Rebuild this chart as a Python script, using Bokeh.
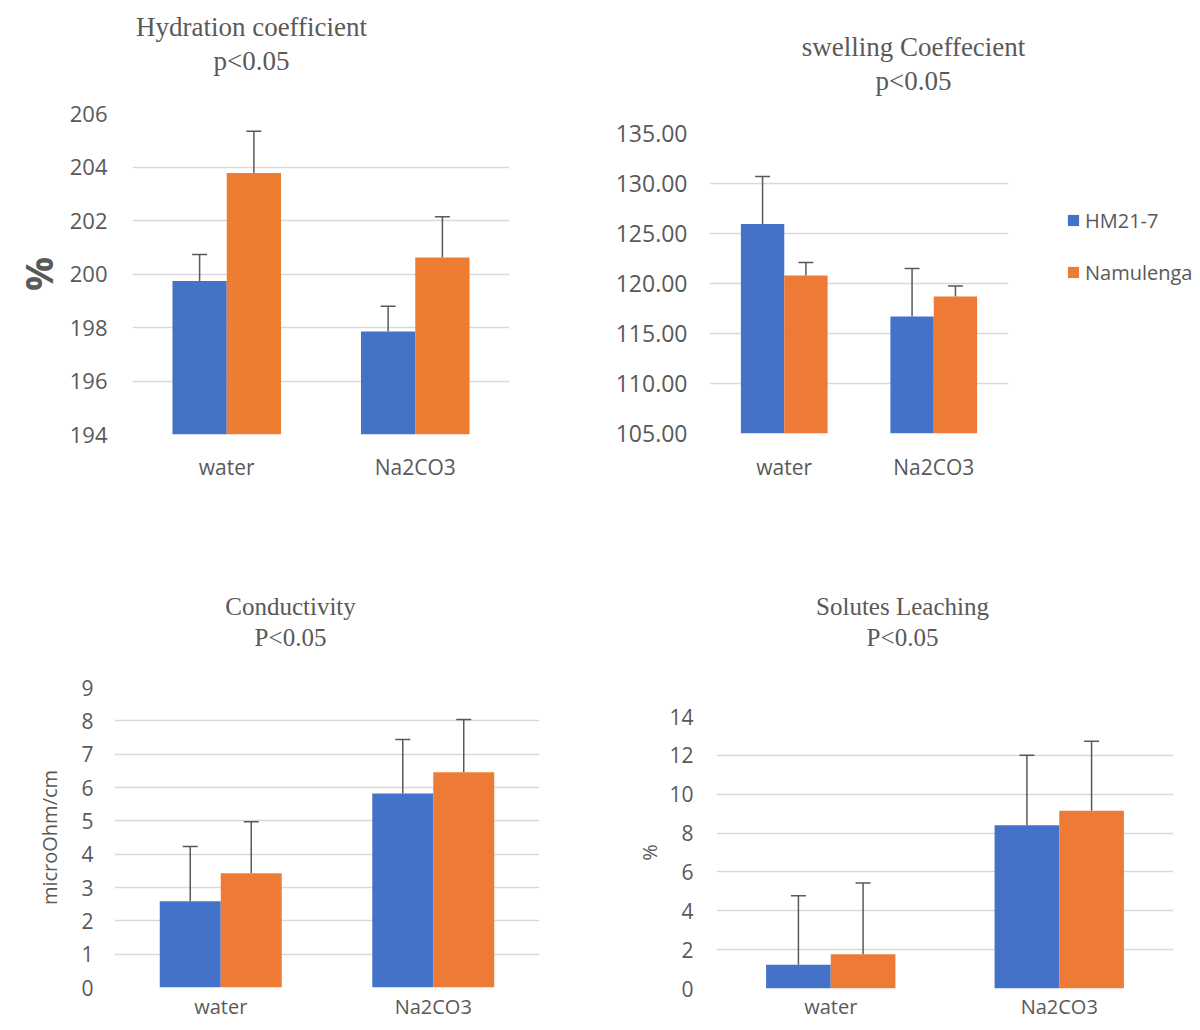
from bokeh.plotting import figure
from bokeh.models import (FactorRange, Range1d, FixedTicker, Whisker, TeeHead,
                          ColumnDataSource, Legend, LegendItem, PrintfTickFormatter)
from bokeh.core.properties import value
from bokeh.transform import dodge
from bokeh.embed import file_html
from bokeh.resources import INLINE

# ---------------- data ----------------
categories = ["water", "Na2CO3"]
series_names = ["HM21-7", "Namulenga"]

hyd_hm = [199.74, 197.85]
hyd_hm_err = [0.99, 0.94]
hyd_nam = [203.78, 200.62]
hyd_nam_err = [1.56, 1.52]
hyd_ticks = [194, 196, 198, 200, 202, 204, 206]

swl_hm = [125.95, 116.70]
swl_hm_err = [4.75, 4.80]
swl_nam = [120.80, 118.70]
swl_nam_err = [1.30, 1.05]
swl_ticks = [105, 110, 115, 120, 125, 130, 135]

con_hm = [2.59, 5.82]
con_hm_err = [1.64, 1.62]
con_nam = [3.43, 6.46]
con_nam_err = [1.54, 1.58]
con_ticks = [0, 1, 2, 3, 4, 5, 6, 7, 8, 9]

sol_hm = [1.22, 8.40]
sol_hm_err = [3.56, 3.60]
sol_nam = [1.76, 9.15]
sol_nam_err = [3.67, 3.58]
sol_ticks = [0, 2, 4, 6, 8, 10, 12, 14]

top_titles = ["Hydration coefficient", "p<0.05", "swelling Coeffecient", "p<0.05"]
bottom_titles = ["Conductivity", "P<0.05", "Solutes Leaching", "P<0.05"]

GRID = "#D9D9D9"
TXT = "#595959"
FONT = "Open Sans"
SERIF = "Liberation Serif"


def make_panel(name, width, height, borders, ticks, hm, hm_err, nam, nam_err,
               colors, bar_w, tick_size, cat_size, tick_standoff, cat_standoff,
               ylabel=None, ylabel_size="20px", ylabel_bold=False,
               ylabel_standoff=10, fmt=None):
    left, right, top, bottom = borders
    p = figure(x_range=FactorRange(factors=categories, range_padding=0),
               y_range=Range1d(ticks[0], ticks[-1]),
               width=width, height=height,
               min_border_left=left, min_border_right=right,
               min_border_top=top, min_border_bottom=bottom,
               output_backend="svg", toolbar_location=None, name=name)
    p.outline_line_color = None
    p.background_fill_color = "white"
    p.border_fill_color = "white"
    p.xgrid.grid_line_color = None
    p.ygrid.ticker = FixedTicker(ticks=ticks)
    p.ygrid.grid_line_color = GRID
    p.ygrid.grid_line_width = 1.5
    p.yaxis.ticker = FixedTicker(ticks=ticks)
    if fmt:
        p.yaxis.formatter = PrintfTickFormatter(format=fmt)
    for ax in (p.xaxis[0], p.yaxis[0]):
        ax.axis_line_color = None
        ax.major_tick_line_color = None
        ax.minor_tick_line_color = None
        ax.major_tick_out = 0
        ax.major_tick_in = 0
        ax.major_label_text_font = FONT
        ax.major_label_text_color = TXT
    p.yaxis.major_label_text_font_size = tick_size
    p.yaxis.major_label_standoff = tick_standoff
    p.xaxis.major_label_text_font_size = cat_size
    p.xaxis.major_label_standoff = cat_standoff
    if ylabel:
        p.yaxis.axis_label = ylabel
        p.yaxis.axis_label_text_font = FONT
        p.yaxis.axis_label_text_font_size = ylabel_size
        p.yaxis.axis_label_text_color = TXT
        p.yaxis.axis_label_text_font_style = "bold" if ylabel_bold else "normal"
        p.yaxis.axis_label_standoff = ylabel_standoff

    base = ticks[0]
    for vals, errs, off, col in ((hm, hm_err, -bar_w / 2, colors[0]),
                                 (nam, nam_err, bar_w / 2, colors[1])):
        src = ColumnDataSource(dict(cat=categories, val=vals,
                                    up=[v + e for v, e in zip(vals, errs)]))
        p.vbar(x=dodge("cat", off, range=p.x_range), top="val", bottom=base,
               width=bar_w, source=src, fill_color=col, line_color=None)
        w = Whisker(source=src, base=dodge("cat", off, range=p.x_range),
                    upper="up", lower="val", line_color=TXT, line_width=1.5,
                    upper_head=TeeHead(size=15, line_color=TXT, line_width=1.5),
                    lower_head=None)
        p.add_layout(w)
    return p


flat = ("#4472C4", "#ED7D31")
grad = ("#4572C9", "#EE7B35")

p1 = make_panel("p1", 582, 560, (118, 81, 105, 134), hyd_ticks, hyd_hm, hyd_hm_err,
                hyd_nam, hyd_nam_err, flat, 0.288, "22px", "21px", 25, 18,
                ylabel="%", ylabel_size="38px", ylabel_bold=True, ylabel_standoff=3)

p2 = make_panel("p2", 602, 560, (119, 184, 125, 135), swl_ticks, swl_hm, swl_hm_err,
                swl_nam, swl_nam_err, grad, 0.29, "23px", "21px", 22, 19,
                fmt="%.2f")

p3 = make_panel("p3", 592, 454, (106, 61, 119, 32), con_ticks, con_hm, con_hm_err,
                con_nam, con_nam_err, grad, 0.287, "21px", "20px", 21, 5,
                ylabel="microOhm/cm", ylabel_size="20px", ylabel_standoff=15)

p4 = make_panel("p4", 592, 454, (116, 19, 148, 31), sol_ticks, sol_hm, sol_hm_err,
                sol_nam, sol_nam_err, grad, 0.283, "21px", "20px", 23, 4,
                ylabel="%", ylabel_size="20px", ylabel_standoff=3)

# transparent overlay (page pixel space) carrying the panel titles and the legend
ov = figure(width=1184, height=1014, x_range=Range1d(0, 1184), y_range=Range1d(1014, 0),
            x_axis_type=None, y_axis_type=None, min_border=0,
            output_backend="svg", toolbar_location=None, name="overlay")
ov.outline_line_color = None
ov.background_fill_color = None
ov.border_fill_color = None
ov.grid.grid_line_color = None
ov.text(x=[243, 243, 905, 905], y=[18, 52, 38, 72], text=top_titles,
        text_font=value(SERIF), text_font_size="27px", text_color=TXT,
        text_align="center", text_baseline="middle")
ov.text(x=[282, 282, 894, 894], y=[598, 629, 598, 629], text=bottom_titles,
        text_font=value(SERIF), text_font_size="25px", text_color=TXT,
        text_align="center", text_baseline="middle")

# zero-size legend proxies (they only carry the series colours for the legend)
lg_hm = ov.vbar(x=[0], bottom=[0], top=[0], width=0, fill_color=grad[0], line_color=None)
lg_nam = ov.vbar(x=[0], bottom=[0], top=[0], width=0, fill_color=grad[1], line_color=None)
lg = Legend(items=[LegendItem(label=series_names[0], renderers=[lg_hm]),
                   LegendItem(label=series_names[1], renderers=[lg_nam])],
            location=(1058, 736), orientation="vertical",
            glyph_width=14, glyph_height=14, label_height=28,
            spacing=24, padding=0, margin=0, label_standoff=5,
            label_text_font=FONT, label_text_font_size="20px",
            label_text_color=TXT, border_line_alpha=0,
            background_fill_alpha=0)
ov.add_layout(lg)

TEMPLATE = """
{% from macros import embed %}
{% block contents %}
<div style="position:absolute;left:8px;top:8px;width:1184px;height:1014px;overflow:hidden;">
<div style="position:absolute;left:0px;top:0px;">{{ embed(roots.p1) }}</div>
<div style="position:absolute;left:582px;top:0px;">{{ embed(roots.p2) }}</div>
<div style="position:absolute;left:0px;top:560px;">{{ embed(roots.p3) }}</div>
<div style="position:absolute;left:592px;top:560px;">{{ embed(roots.p4) }}</div>
<div style="position:absolute;left:0px;top:0px;">{{ embed(roots.overlay) }}</div>
</div>
{% endblock %}
"""

open("out.html", "w").write(file_html([p1, p2, p3, p4, ov], INLINE, template=TEMPLATE))
